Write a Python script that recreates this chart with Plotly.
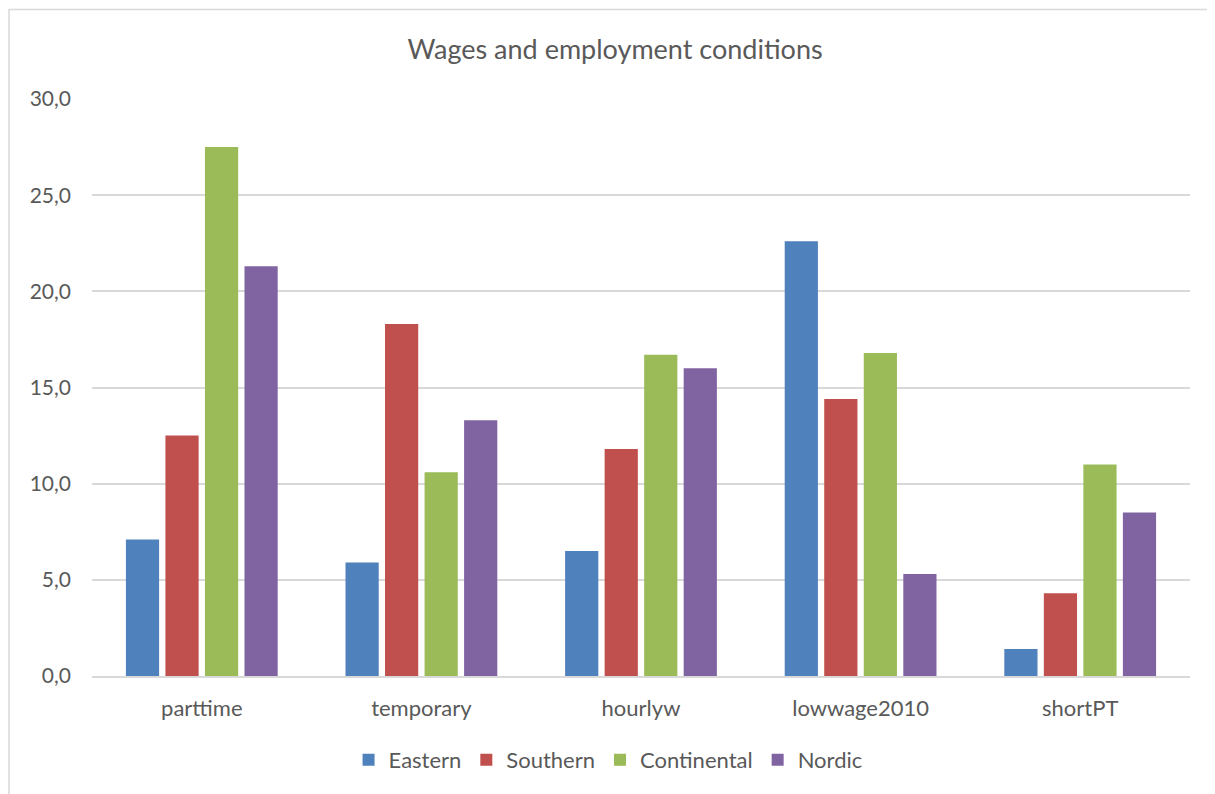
import plotly.graph_objects as go

# ── data ──────────────────────────────────────────────────────────────────────
categories = ["parttime", "temporary", "hourlyw", "lowwage2010", "shortPT"]
eastern     = [7.1, 5.9, 6.5, 22.6, 1.4]
southern    = [12.5, 18.3, 11.8, 14.4, 4.3]
continental = [27.5, 10.6, 16.7, 16.8, 11.0]
nordic      = [21.3, 13.3, 16.0, 5.3, 8.5]

series = [
    ("Eastern", eastern, "#4f81bd"),
    ("Southern", southern, "#c0504d"),
    ("Continental", continental, "#9bbb59"),
    ("Nordic", nordic, "#8064a2"),
]

FONT = "Lato, Carlito, 'Open Sans', sans-serif"
TXT = "#595959"
GRID = "#d9d9d9"

fig = go.Figure()
for name, vals, col in series:
    fig.add_trace(go.Bar(
        x=categories, y=vals, name=name,
        marker=dict(color=col, line=dict(width=0)),
    ))

# chart border (Excel chart area, cropped on the right/bottom)
fig.add_shape(
    type="rect", xref="paper", yref="paper",
    x0=-0.0756, x1=1.2, y0=-0.5, y1=1.155,
    line=dict(color=GRID, width=1.5), layer="below",
)

fig.update_layout(
    width=1207, height=786,
    margin=dict(l=84, r=25, t=91, b=118),
    paper_bgcolor="white", plot_bgcolor="white",
    font=dict(family=FONT, color=TXT, size=21),
    title=dict(
        text="Wages and employment conditions",
        x=0.503, xref="container", xanchor="center",
        y=0.9466, yanchor="middle",
        font=dict(size=27, color=TXT, family=FONT),
    ),
    barmode="group", bargap=0.28, bargroupgap=0.16,
    xaxis=dict(
        showgrid=False, showline=True, linecolor=GRID, linewidth=1.5,
        ticks="", tickfont=dict(size=22, color=TXT), ticklabelstandoff=12,
    ),
    yaxis=dict(
        range=[0, 30], dtick=5, tickformat=".1f",
        showgrid=True, gridcolor=GRID, gridwidth=1.5,
        zeroline=False, showline=False, ticks="",
        tickfont=dict(size=21, color=TXT), ticklabelstandoff=20,
    ),
    separators=", ",
    legend=dict(
        orientation="h", x=0.47, xanchor="center",
        y=-0.1456, yanchor="middle",
        font=dict(size=22, color=TXT), itemwidth=30,
        traceorder="normal",
    ),
    showlegend=True,
)

fig.write_html("out.html")
